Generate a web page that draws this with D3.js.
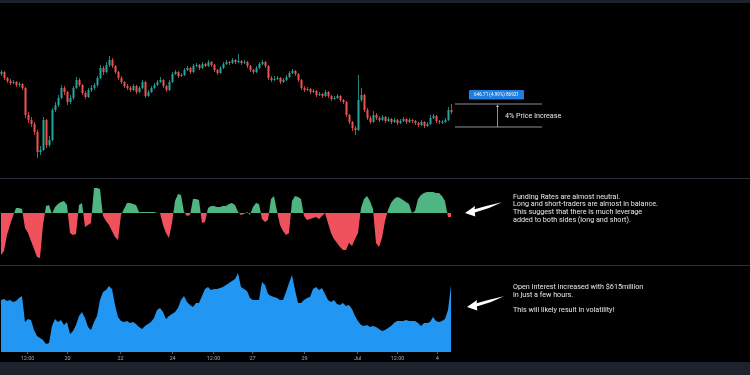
<!DOCTYPE html>
<html lang="en">
<head>
<meta charset="UTF-8">
<title>BTC price, funding rates and open interest</title>
<script src="https://cdn.jsdelivr.net/npm/d3@7"></script>
<style>
  html, body { margin: 0; padding: 0; background: #000; }
  svg { display: block; will-change: transform; }
</style>
</head>
<body>
<svg width="750" height="375"></svg>
<script>
// price candles (USD) - open of first bar, then close / high / low per bar
const firstOpen = 37600;
const closes = [37800,37200,36900,36700,36800,36500,36600,36200,33500,33000,
  32600,31800,29800,30000,33000,30500,31000,34000,34500,35200,
  36200,35800,34800,35200,36200,37000,36500,35700,35300,36000,
  36200,36500,37200,38200,37800,38500,39000,38400,37800,37200,
  36800,36400,36200,36000,36400,35800,36200,36800,35400,35800,
  36200,36500,36800,37000,36400,36000,36800,37600,37800,37400,
  37500,38000,38200,37800,38400,38500,38200,38600,38400,38800,
  38500,38000,37700,38200,38600,38800,38700,39000,38800,38900,
  38700,38800,38400,38000,37800,38200,38600,38800,38400,37200,
  37000,37100,37200,36800,37000,37300,37700,37900,37600,37000,
  36200,36000,36100,35800,35900,35500,35600,35400,35800,35400,
  35100,35200,35400,35000,34800,33500,32800,32200,32000,35000,
  35500,34000,33200,32800,33500,33200,33000,33300,32900,33100,
  32800,33000,32700,32900,33100,32800,33000,32900,32700,32500,
  32800,32400,32600,33200,33400,32900,32800,32800,33000,34000,
  33800];
const highs = [38000,37900,37300,37100,37000,36900,36800,36700,36300,33800,
  33300,32800,32000,30400,33300,33100,31400,34200,34800,35500,
  36500,36400,35900,35500,36400,37300,37200,36600,35900,36200,
  36500,36700,37400,38500,38400,38800,39400,39200,38500,37900,
  37400,36900,36600,36400,36600,36500,36400,37000,36900,36000,
  36400,36700,37000,37300,37100,36500,37000,37800,38000,37900,
  37700,38200,38400,38300,38600,38700,38600,38800,38700,39000,
  38900,38600,38100,38400,38800,39000,38900,39200,39100,39600,
  39000,39000,38900,38500,38100,38400,38800,39000,38900,38500,
  37400,37400,37400,37300,37200,37500,37900,38100,38000,37700,
  37100,36400,36300,36200,36100,36000,35800,35700,36000,35900,
  35500,35400,35600,35500,35100,34900,33600,32900,32400,37500,
  36200,35600,34200,33400,33900,33700,33400,33500,33400,33300,
  33200,33200,33100,33100,33300,33200,33200,33100,33000,32800,
  33000,32900,32800,33500,33600,33500,33000,33000,33200,34300,
  34600];
const lows = [37400,37000,36700,36500,36600,36300,36300,36000,33200,32700,
  32300,31500,29200,29500,29900,30200,30300,30900,33800,34300,
  35100,35500,34500,34600,35000,36100,36300,35500,35100,35200,
  35800,36000,36300,37100,37500,37700,38300,38200,37600,37000,
  36600,36200,36000,35800,35900,35600,35700,36100,35200,35300,
  35700,36100,36400,36700,36200,35800,35900,36700,37500,37200,
  37300,37400,37900,37600,37700,38300,38000,38100,38300,38300,
  38300,37800,37500,37600,38100,38500,38500,38600,38600,38700,
  38500,38600,38200,37800,37600,37700,38100,38500,38200,37000,
  36800,36900,37000,36600,36700,36900,37200,37600,37400,36800,
  36000,35800,35900,35600,35700,35300,35400,35200,35300,35200,
  34900,35000,35100,34800,34600,33300,32600,31900,31500,31900,
  34800,33800,33000,32600,32700,33000,32800,32900,32700,32800,
  32600,32700,32500,32600,32800,32600,32700,32700,32500,32300,
  32400,32200,32300,32500,33100,32700,32600,32600,32700,32900,
  33600];

// funding rate (%)
const funding = [-0.042,-0.038,-0.022,-0.012,-0.003,0.005,0.005,0.004,-0.015,-0.020,
  -0.028,-0.036,-0.044,-0.045,-0.012,0.007,0.008,-0.001,0.006,0.009,
  0.011,0.012,0.008,-0.020,-0.022,-0.021,0.008,0.010,-0.014,-0.012,
  -0.010,0.025,0.025,0.024,-0.003,-0.008,-0.012,-0.018,-0.024,-0.027,
  -0.002,0.004,0.010,0.010,0.009,0.008,0.001,0.001,0.001,0.001,
  0.001,0.001,0.000,0.000,-0.012,-0.020,-0.025,-0.010,0.012,0.019,
  0.018,0.001,-0.003,-0.002,0.014,0.014,0.013,-0.010,-0.009,0.005,
  0.007,0.007,0.006,0.006,0.007,0.007,0.009,0.010,0.008,0.001,
  -0.002,-0.001,0.001,-0.002,0.006,0.010,0.009,-0.006,-0.009,-0.007,
  0.014,0.017,0.002,-0.012,-0.018,-0.022,-0.020,0.012,0.017,0.016,
  0.014,-0.003,-0.007,-0.006,-0.005,-0.004,-0.006,-0.003,0.000,-0.010,
  -0.020,-0.026,-0.030,-0.034,-0.037,-0.037,-0.030,-0.033,-0.026,-0.020,
  0.005,0.014,0.017,0.012,0.004,-0.030,-0.034,-0.025,-0.008,0.003,
  0.010,0.014,0.016,0.015,0.013,0.011,0.009,0.000,0.002,0.014,
  0.018,0.020,0.021,0.021,0.021,0.020,0.020,0.017,0.012,-0.004,
  -0.004];

// open interest ($ million)
const openInterest = [12040,12060,12020,12040,12000,12020,12080,12120,11600,11660,
  11640,11440,11320,11280,11240,11160,11180,11520,11660,11600,
  11640,11540,11600,11360,11420,11540,11720,11800,11680,11500,
  11440,11600,11720,12040,12200,12240,12320,12260,11940,11700,
  11620,11600,11620,11580,11600,11560,11500,11460,11520,11560,
  11600,11680,11840,11880,11800,11660,11720,11760,11800,11880,
  12040,12120,12000,11940,11900,11980,11980,12120,12260,12300,
  12240,12260,12260,12280,12300,12340,12380,12420,12460,12580,
  12300,12260,12220,12080,12040,12040,12040,12400,12340,12160,
  12120,12100,12080,12040,12040,12200,12380,12540,12240,11980,
  11980,12040,12080,12100,12260,12300,12240,12280,12160,12040,
  12000,12040,11960,11940,11980,11920,11940,11860,11720,11620,
  11540,11520,11540,11500,11520,11500,11460,11420,11440,11480,
  11520,11580,11620,11620,11620,11640,11620,11620,11620,11580,
  11520,11580,11580,11600,11700,11620,11600,11620,11660,11840,
  12340];

// time axis (bar index -> label)
const tickIndex = [8.7, 22, 39.7, 57, 70.7, 83.7, 101, 118.7, 132, 145.3];
const tickLabels = ["12:00", "20", "22", "24", "12:00", "27", "29", "Jul", "12:00", "4"];

// price range measured at the end
const rangePrices = [32300, 34600];
const rangeLabel = "646.71 (4.99%) 86921";

const fundingNote = [
  "Funding Rates are almost neutral.",
  "Long and short-traders are almost in balance.",
  "This suggest that there is much leverage",
  "added to both sides (long and short)."
];
const oiNote = [
  "Open Interest increased with $615million",
  "in just a few hours.",
  "",
  "This will likely result in volatility!"
];

const svg = d3.select('svg');
const width = 750, height = 375;

// plain pass-through filter: text is drawn into its own surface (grey antialiasing)
svg.append('defs').append('filter').attr('id', 'flat')
  .append('feOffset').attr('dx', 0).attr('dy', 0);

// background bands
svg.append('rect').attr('width', width).attr('height', height).attr('fill', '#000');
svg.append('rect').attr('width', width).attr('height', 3).attr('fill', '#1e222d');
svg.append('rect').attr('y', 362).attr('width', width).attr('height', 13).attr('fill', '#1e222d');

// pane separators
[178, 265].forEach(y => {
  svg.append('line').attr('x1', 0).attr('x2', width).attr('y1', y + 0.5).attr('y2', y + 0.5)
    .attr('stroke', '#2a2e39').attr('stroke-width', 1);
});

const x = d3.scaleLinear().domain([0, closes.length - 1]).range([1, 451]);

// ---- price pane
const py = d3.scaleLinear().domain([29000, 41000]).range([160, 40]);
const candles = closes.map((c, i) => ({
  i, o: i === 0 ? firstOpen : closes[i - 1], c, h: highs[i], l: lows[i]
}));
const up = '#26a69a', down = '#ef5350';

const cg = svg.append('g');
cg.selectAll('line.wick')
  .data(candles)
  .join('line')
  .attr('class', 'wick')
  .attr('x1', d => x(d.i) + 0.5).attr('x2', d => x(d.i) + 0.5)
  .attr('y1', d => py(d.h)).attr('y2', d => py(d.l))
  .attr('stroke', d => d.c >= d.o ? up : down)
  .attr('stroke-width', 0.8);
cg.selectAll('rect.body')
  .data(candles)
  .join('rect')
  .attr('class', 'body')
  .attr('x', d => x(d.i) - 0.5)
  .attr('width', 2)
  .attr('y', d => py(Math.max(d.o, d.c)))
  .attr('height', d => Math.max(1, Math.abs(py(d.o) - py(d.c))))
  .attr('fill', d => d.c >= d.o ? up : down);

// measure tool
const rx0 = 455, rx1 = 542, rxm = 497.5;
const mg = svg.append('g').attr('stroke', '#b2b5be').attr('stroke-width', 0.8);
rangePrices.forEach(p => {
  mg.append('line').attr('x1', rx0).attr('x2', rx1).attr('y1', py(p)).attr('y2', py(p));
});
mg.append('line').attr('x1', rxm).attr('x2', rxm)
  .attr('y1', py(rangePrices[1]) + 1).attr('y2', py(rangePrices[0]));
svg.append('path')
  .attr('d', `M${rxm},${py(rangePrices[1]) + 0.5} l-1.5,2.5 h3 Z`)
  .attr('fill', '#b2b5be');

const notes = svg.append('g').attr('filter', 'url(#flat)');
notes.append('rect')
  .attr('x', 469).attr('y', py(rangePrices[1]) - 14)
  .attr('width', 55).attr('height', 9.5).attr('rx', 1)
  .attr('fill', '#1e7fe0');
notes.append('text')
  .attr('x', 496.5).attr('y', py(rangePrices[1]) - 7.6)
  .attr('text-anchor', 'middle')
  .attr('font-family', 'Roboto, sans-serif').attr('font-size', 4.6)
  .attr('fill', '#fff')
  .text(rangeLabel);
notes.append('text')
  .attr('x', 505).attr('y', (py(rangePrices[0]) + py(rangePrices[1])) / 2 + 2.6)
  .attr('font-family', 'Roboto, sans-serif').attr('font-size', 7.2)
  .attr('fill', '#e6e7ea')
  .text('4% Price increase');

// ---- funding pane
const fy = d3.scaleLinear().domain([-0.05, 0.035]).range([263, 178]);
const fArea = d3.area()
  .x((d, i) => x(i))
  .y0(fy(0))
  .y1(d => fy(d));

const defs = svg.select('defs');
defs.append('clipPath').attr('id', 'fpos')
  .append('rect').attr('x', 0).attr('y', 178).attr('width', width).attr('height', fy(0) - 178);
defs.append('clipPath').attr('id', 'fneg')
  .append('rect').attr('x', 0).attr('y', fy(0)).attr('width', width).attr('height', 265 - fy(0));

svg.append('path').datum(funding)
  .attr('d', fArea).attr('fill', '#4fb583').attr('clip-path', 'url(#fpos)');
svg.append('path').datum(funding)
  .attr('d', fArea).attr('fill', '#f0525d').attr('clip-path', 'url(#fneg)');

// ---- open interest pane
const oy = d3.scaleLinear().domain([11000, 12740]).range([352, 265]);
svg.append('path').datum(openInterest)
  .attr('d', d3.area().x((d, i) => x(i)).y0(oy(11000)).y1(d => oy(d)))
  .attr('fill', '#2196f3');

// ---- time axis
const axis = svg.append('g')
  .attr('filter', 'url(#flat)')
  .attr('transform', 'translate(0,352)')
  .call(d3.axisBottom(x).tickValues(tickIndex).tickFormat((d, i) => tickLabels[i]).tickSize(2).tickPadding(2));
axis.select('.domain').remove();
axis.selectAll('line').attr('stroke', '#5d606b');
axis.selectAll('text')
  .attr('fill', '#a3a6af')
  .attr('font-family', 'Roboto, sans-serif')
  .attr('font-size', 5.5);

// ---- notes and arrows
const noteStyle = sel => sel
  .attr('font-family', 'Roboto, sans-serif')
  .attr('font-size', 7.2)
  .attr('fill', '#e6e7ea');

notes.append('g').selectAll('text')
  .data(fundingNote)
  .join('text')
  .attr('x', 513)
  .attr('y', (d, i) => 198.5 + i * 7.7)
  .text(d => d)
  .call(noteStyle);

notes.append('g').selectAll('text')
  .data(oiNote)
  .join('text')
  .attr('x', 513)
  .attr('y', (d, i) => 289 + i * 7.6)
  .text(d => d)
  .call(noteStyle);

const arrowPath = 'M465,213 L475,206 L474.6,209.2 Q488,205.3 502,202.2 Q489,208.8 474.8,212.6 L475.3,216.5 Z';
svg.append('path').attr('d', arrowPath).attr('fill', '#fff');
svg.append('path').attr('d', arrowPath).attr('fill', '#fff').attr('transform', 'translate(2,94)');
</script>
</body>
</html>
